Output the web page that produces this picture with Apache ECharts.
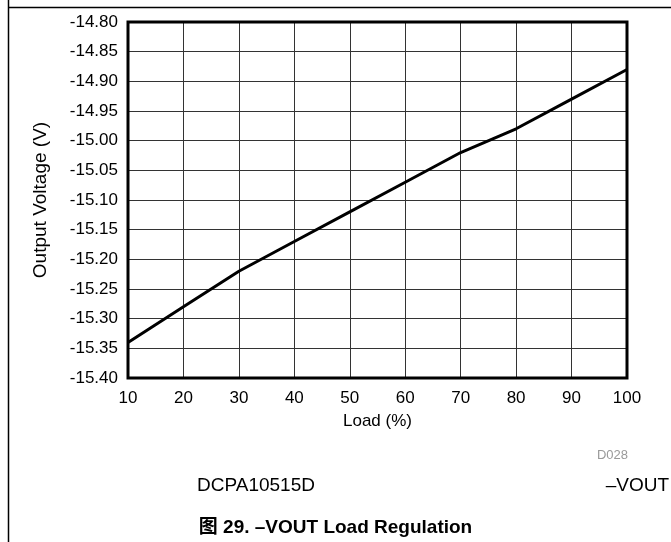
<!DOCTYPE html>
<html>
<head>
<meta charset="utf-8">
<script src="https://cdn.jsdelivr.net/npm/echarts@6/dist/echarts.min.js"></script>
<style>
html,body{margin:0;padding:0;background:#fff;}
#main{width:671px;height:542px;}
</style>
</head>
<body>
<div id="main"></div>
<script>
var loadPct = [10, 20, 30, 40, 50, 60, 70, 80, 90, 100];
var outputVoltage = [-15.34, -15.28, -15.22, -15.17, -15.12, -15.07, -15.02, -14.98, -14.93, -14.88];
var xTicks = {min: 10, max: 100, interval: 10};
var yTicks = {min: -15.40, max: -14.80, interval: 0.05};
var xName = 'Load (%)';
var yName = 'Output Voltage (V)';
var figTitle = '图 29. –VOUT Load Regulation';
var partLabel = 'DCPA10515D';
var sideLabel = '–VOUT';
var docCode = 'D028';

var FONT = '"Liberation Sans", Arial, "Noto Sans CJK SC", sans-serif';
var chart = echarts.init(document.getElementById('main'), null, {renderer: 'canvas'});
var data = loadPct.map(function (x, i) { return [x, outputVoltage[i]]; });

chart.setOption({
  animation: false,
  backgroundColor: '#fff',
  title: {
    text: figTitle,
    left: 'center',
    top: 513,
    textStyle: {fontFamily: FONT, fontSize: 19, fontWeight: 'bold', color: '#000'}
  },
  grid: {
    left: 128, right: 44, top: 22, bottom: 164,
    show: true, z: 10, borderColor: '#000', borderWidth: 3,
    backgroundColor: 'transparent'
  },
  xAxis: {
    type: 'value',
    min: xTicks.min, max: xTicks.max, interval: xTicks.interval,
    name: xName, nameLocation: 'middle', nameGap: 35,
    nameTextStyle: {fontFamily: FONT, fontSize: 17, color: '#000'},
    axisLine: {show: false},
    axisTick: {show: false},
    axisLabel: {fontFamily: FONT, fontSize: 17, color: '#000', margin: 12},
    splitLine: {show: true, lineStyle: {color: '#333', width: 1}}
  },
  yAxis: {
    type: 'value',
    min: yTicks.min, max: yTicks.max, interval: yTicks.interval,
    name: yName, nameLocation: 'middle', nameGap: 78, nameRotate: 90,
    nameTextStyle: {fontFamily: FONT, fontSize: 19, color: '#000'},
    axisLine: {show: false},
    axisTick: {show: false},
    axisLabel: {fontFamily: FONT, fontSize: 17, color: '#000', margin: 10,
      formatter: function (v) { return v.toFixed(2); }},
    splitLine: {show: true, lineStyle: {color: '#333', width: 1}}
  },
  series: [{
    type: 'line',
    data: data,
    showSymbol: false,
    symbol: 'none',
    lineStyle: {color: '#000', width: 3},
    z: 5
  }],
  graphic: [
    {type: 'line', shape: {x1: 8.5, y1: 0, x2: 8.5, y2: 542}, style: {stroke: '#000', lineWidth: 1.5}, silent: true},
    {type: 'line', shape: {x1: 8, y1: 7.5, x2: 671, y2: 7.5}, style: {stroke: '#000', lineWidth: 1.5}, silent: true},
    {type: 'text', right: 43, top: 449, style: {text: docCode, fontFamily: FONT, fontSize: 13, fill: '#999'}},
    {type: 'text', left: 197, top: 476, style: {text: partLabel, fontFamily: FONT, fontSize: 19, fill: '#000'}},
    {type: 'text', right: 2, top: 476, style: {text: sideLabel, fontFamily: FONT, fontSize: 19, fill: '#000'}}
  ]
});
</script>
</body>
</html>
